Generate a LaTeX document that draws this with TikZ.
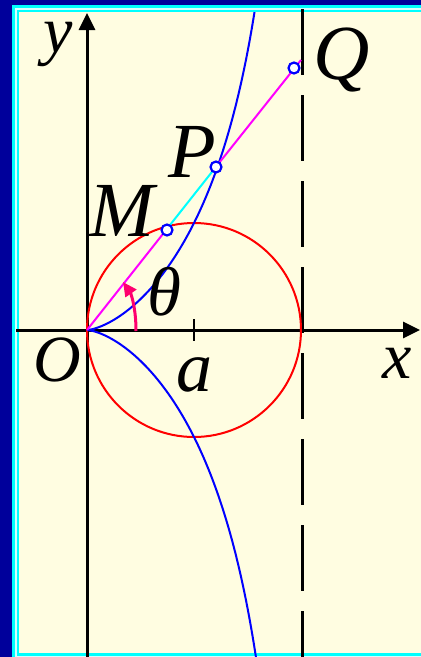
\documentclass[tikz,border=0pt]{standalone}
\usepackage{fontspec}
\setmainfont{Liberation Serif}
\usetikzlibrary{arrows.meta}
\definecolor{navyframe}{RGB}{0,0,155}
\definecolor{bgyellow}{RGB}{255,253,225}
\definecolor{pinkarc}{RGB}{255,0,110}
\definecolor{paleframe}{RGB}{215,255,255}
\definecolor{cyanc}{RGB}{0,255,255}
\definecolor{magc}{RGB}{255,0,255}
\definecolor{bluec}{RGB}{0,0,255}
\definecolor{redc}{RGB}{255,0,0}
\begin{document}
\begin{tikzpicture}[x=1pt,y=-1pt,
  axisline/.style={line width=3pt,-{Triangle[length=17pt,width=16pt]}},
  tickline/.style={line width=2pt},
  dashline/.style={line width=3pt,dash pattern=on 66pt off 20pt},
  circline/.style={redc,line width=2pt},
  cisline/.style={bluec,line width=2pt},
  magseg/.style={magc,line width=2pt},
  cyanseg/.style={cyanc,line width=2pt},
  arcarrow/.style={pinkarc,line width=3pt,-{Triangle[length=14pt,width=13pt]}},
  marker/.style={circle,draw=bluec,fill=white,line width=2.2pt,minimum size=11pt,inner sep=0pt},
  labbig/.style={inner sep=0pt,font=\fontsize{78}{78}\selectfont\itshape},
  labmid/.style={inner sep=0pt,font=\fontsize{66}{66}\selectfont\itshape},
  labth/.style={inner sep=0pt,font=\fontsize{69}{69}\selectfont\itshape},
  laba/.style={inner sep=0pt,font=\fontsize{72}{72}\selectfont\itshape}]
\useasboundingbox (0,0) rectangle (421,657);
% frame
\fill[navyframe] (0,0) rectangle (421,657);
\fill[cyanc] (12,5) rectangle (421,657);
\fill[paleframe] (14.5,7.5) rectangle (421,656.5);
\fill[cyanc] (16.5,9.5) rectangle (421,656);
\fill[bgyellow] (19,12) rectangle (421,653);
% coordinates
\coordinate (O) at (87,330);
\coordinate (C) at (194,330);
\coordinate (Ytop) at (87,13);
\coordinate (Ybot) at (87,657);
\coordinate (Xl) at (16,330);
\coordinate (Xr) at (420,330);
\coordinate (Dtop) at (302,9);
\coordinate (Dbot) at (302,657);
\coordinate (Mx) at (169.3,225.9);
\coordinate (Px) at (218.7,163.4);
\coordinate (Qx) at (301,60);
\coordinate (T1) at (194,319);
\coordinate (T2) at (194,341);
\coordinate (A1) at (136,331);
\coordinate (A2) at (123,282);
% axes
\draw[axisline] (Xl) -- (Xr);
\draw[axisline] (Ybot) -- (Ytop);
\draw[tickline] (T1) -- (T2);
\draw[dashline] (Dtop) -- (Dbot);
% circle and cissoid
\draw[circline] (C) circle[radius=107];
\begin{scope}
\clip (0,12) rectangle (421,657);
\draw[cisline] plot[domain=-2.05:2.05,samples=201,variable=\t]
  ({87+214*\t*\t/(1+\t*\t)},{330-214*\t*\t*\t/(1+\t*\t)});
\end{scope}
% ray
\draw[magseg] (O) -- (Mx);
\draw[cyanseg] (Mx) -- (Px);
\draw[magseg] (Px) -- (Qx);
\draw[arcarrow] (A1) .. controls (136,305) and (130,292) .. (A2);
% markers
\node[marker] (M) at (167,230) {};
\node[marker] (P) at (216,167) {};
\node[marker] (Q) at (294,68) {};
% labels
\node[labmid] (ylab) at (58.5,44) {y};
\node[labbig] (Qlab) at (342,59.5) {Q};
\node[labbig] (Plab) at (192.5,151.5) {P};
\node[labbig] (Mlab) at (122,211) {M};
\node[labth] (thlab) at (164,291.5) {θ};
\node[labmid] (Olab) at (57.5,360) {O};
\node[laba] (alab) at (194.5,374.5) {a};
\node[labmid] (xlab) at (397.5,363) {x};
\end{tikzpicture}
\end{document}
